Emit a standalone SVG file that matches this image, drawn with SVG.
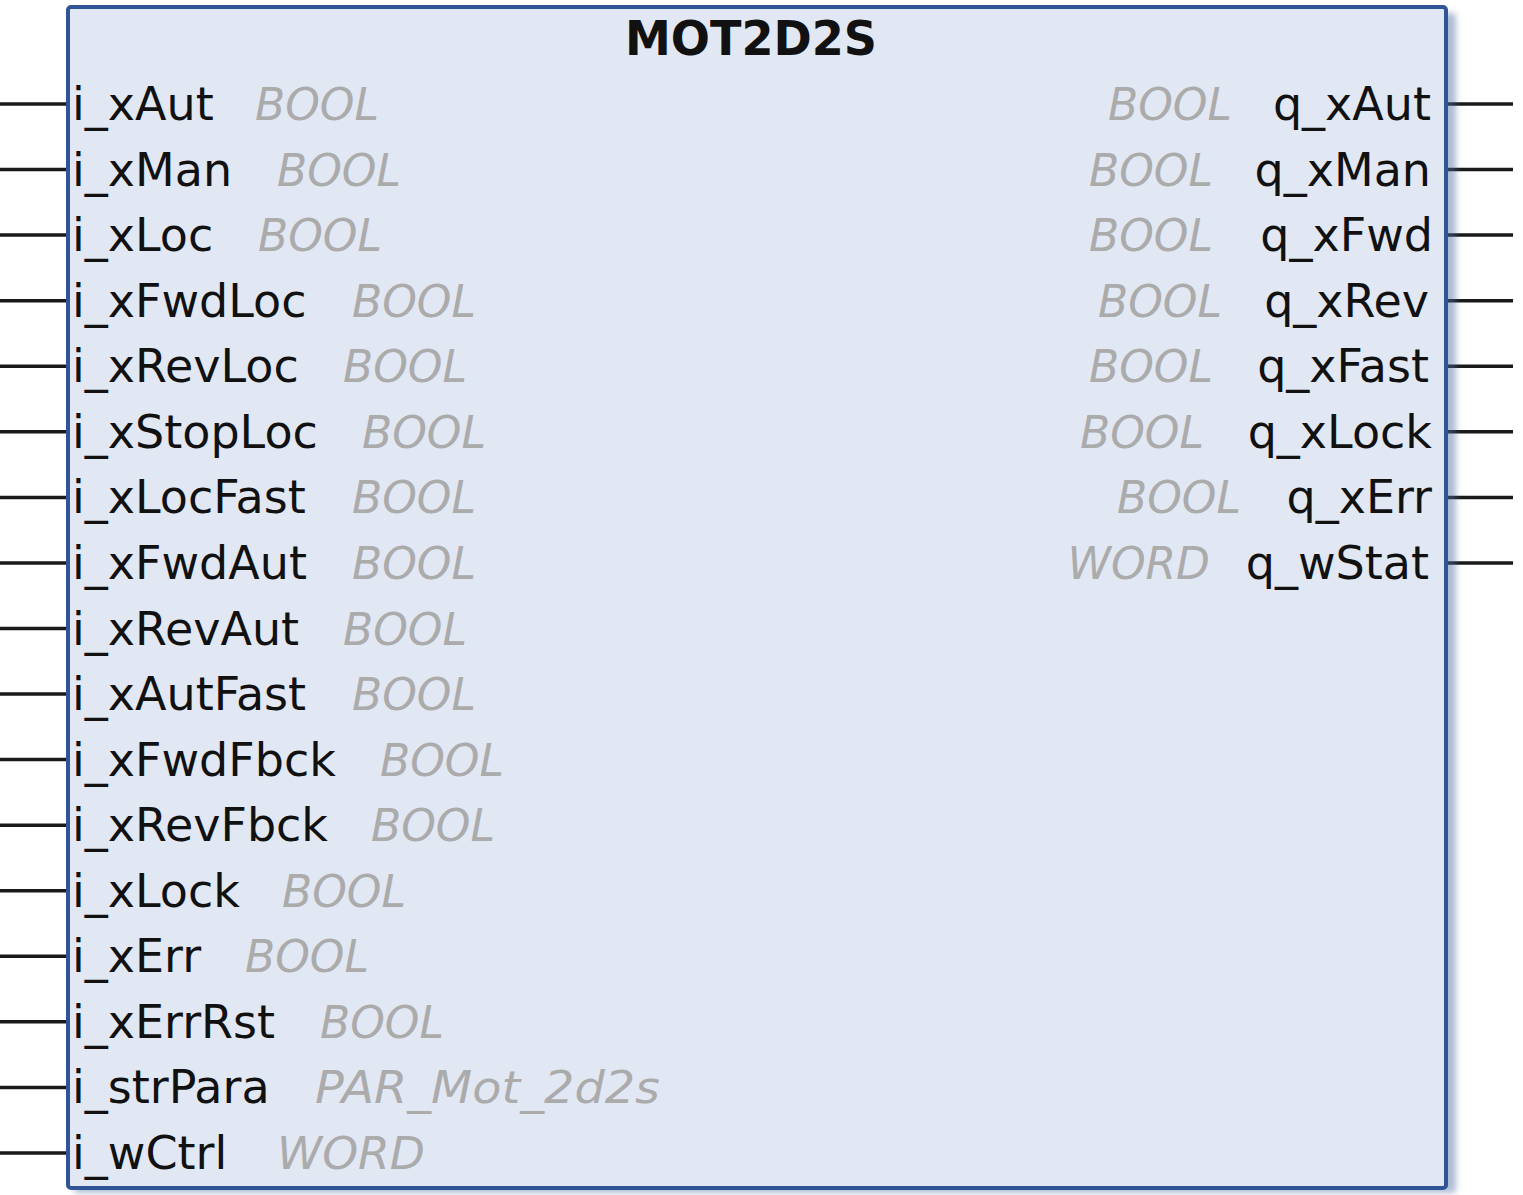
<svg xmlns="http://www.w3.org/2000/svg" width="1523" height="1195" viewBox="0 0 1523 1195">
<style>
.pin{stroke:#1a1a1a;stroke-width:3.5;fill:none}
.lbl{font-family:"DejaVu Sans","Liberation Sans",sans-serif;font-size:46px;fill:#111}
.typ{font-family:"DejaVu Sans","Liberation Sans",sans-serif;font-size:44px;font-style:italic;fill:#ababab}
.r{text-anchor:end}
.title{font-family:"DejaVu Sans","Liberation Sans",sans-serif;font-size:48px;font-weight:bold;fill:#111;text-anchor:middle}
</style>
<defs>
<filter id="sh" x="-5%" y="-5%" width="110%" height="110%">
<feGaussianBlur stdDeviation="3"/>
</filter>
</defs>
<g id="connectors">
<line class="pin" x1="0" y1="104" x2="68" y2="104"/>
<line class="pin" x1="0" y1="169.6" x2="68" y2="169.6"/>
<line class="pin" x1="0" y1="235.1" x2="68" y2="235.1"/>
<line class="pin" x1="0" y1="300.7" x2="68" y2="300.7"/>
<line class="pin" x1="0" y1="366.2" x2="68" y2="366.2"/>
<line class="pin" x1="0" y1="431.8" x2="68" y2="431.8"/>
<line class="pin" x1="0" y1="497.4" x2="68" y2="497.4"/>
<line class="pin" x1="0" y1="562.9" x2="68" y2="562.9"/>
<line class="pin" x1="0" y1="628.5" x2="68" y2="628.5"/>
<line class="pin" x1="0" y1="694" x2="68" y2="694"/>
<line class="pin" x1="0" y1="759.6" x2="68" y2="759.6"/>
<line class="pin" x1="0" y1="825.2" x2="68" y2="825.2"/>
<line class="pin" x1="0" y1="890.7" x2="68" y2="890.7"/>
<line class="pin" x1="0" y1="956.3" x2="68" y2="956.3"/>
<line class="pin" x1="0" y1="1021.8" x2="68" y2="1021.8"/>
<line class="pin" x1="0" y1="1087.4" x2="68" y2="1087.4"/>
<line class="pin" x1="0" y1="1153" x2="68" y2="1153"/>
<line class="pin" x1="1446" y1="104" x2="1513" y2="104"/>
<line class="pin" x1="1446" y1="169.6" x2="1513" y2="169.6"/>
<line class="pin" x1="1446" y1="235.1" x2="1513" y2="235.1"/>
<line class="pin" x1="1446" y1="300.7" x2="1513" y2="300.7"/>
<line class="pin" x1="1446" y1="366.2" x2="1513" y2="366.2"/>
<line class="pin" x1="1446" y1="431.8" x2="1513" y2="431.8"/>
<line class="pin" x1="1446" y1="497.4" x2="1513" y2="497.4"/>
<line class="pin" x1="1446" y1="562.9" x2="1513" y2="562.9"/>
</g>
<g id="MOT2D2S">
<rect x="74" y="13" width="1382" height="1180" rx="4" fill="#4a6aa0" opacity="0.45" filter="url(#sh)"/>
<rect x="68" y="7" width="1378" height="1181" rx="3" fill="#e1e8f4" stroke="#2f5597" stroke-width="4"/>
<text class="title" x="751" y="55" textLength="252" lengthAdjust="spacingAndGlyphs">MOT2D2S</text>
<text class="lbl" x="72" y="120">i_xAut</text><text class="typ" x="255" y="120">BOOL</text>
<text class="lbl" x="72" y="185.6">i_xMan</text><text class="typ" x="277" y="185.6">BOOL</text>
<text class="lbl" x="72" y="251.1">i_xLoc</text><text class="typ" x="258" y="251.1">BOOL</text>
<text class="lbl" x="72" y="316.7">i_xFwdLoc</text><text class="typ" x="352" y="316.7">BOOL</text>
<text class="lbl" x="72" y="382.2">i_xRevLoc</text><text class="typ" x="343" y="382.2">BOOL</text>
<text class="lbl" x="72" y="447.8">i_xStopLoc</text><text class="typ" x="362" y="447.8">BOOL</text>
<text class="lbl" x="72" y="513.4">i_xLocFast</text><text class="typ" x="352" y="513.4">BOOL</text>
<text class="lbl" x="72" y="578.9">i_xFwdAut</text><text class="typ" x="352" y="578.9">BOOL</text>
<text class="lbl" x="72" y="644.5">i_xRevAut</text><text class="typ" x="343" y="644.5">BOOL</text>
<text class="lbl" x="72" y="710">i_xAutFast</text><text class="typ" x="352" y="710">BOOL</text>
<text class="lbl" x="72" y="775.6">i_xFwdFbck</text><text class="typ" x="380" y="775.6">BOOL</text>
<text class="lbl" x="72" y="841.2">i_xRevFbck</text><text class="typ" x="371" y="841.2">BOOL</text>
<text class="lbl" x="72" y="906.7">i_xLock</text><text class="typ" x="282" y="906.7">BOOL</text>
<text class="lbl" x="72" y="972.3">i_xErr</text><text class="typ" x="245" y="972.3">BOOL</text>
<text class="lbl" x="72" y="1037.8">i_xErrRst</text><text class="typ" x="320" y="1037.8">BOOL</text>
<text class="lbl" x="72" y="1103.4">i_strPara</text><text class="typ" x="315" y="1103.4" textLength="345" lengthAdjust="spacingAndGlyphs">PAR_Mot_2d2s</text>
<text class="lbl" x="72" y="1169">i_wCtrl</text><text class="typ" x="277" y="1169" textLength="148" lengthAdjust="spacingAndGlyphs">WORD</text>
<text class="lbl r" x="1431" y="120">q_xAut</text><text class="typ r" x="1232" y="120">BOOL</text>
<text class="lbl r" x="1431" y="185.6">q_xMan</text><text class="typ r" x="1213" y="185.6">BOOL</text>
<text class="lbl r" x="1433" y="251.1">q_xFwd</text><text class="typ r" x="1213" y="251.1">BOOL</text>
<text class="lbl r" x="1429" y="316.7">q_xRev</text><text class="typ r" x="1222" y="316.7">BOOL</text>
<text class="lbl r" x="1429" y="382.2">q_xFast</text><text class="typ r" x="1213" y="382.2">BOOL</text>
<text class="lbl r" x="1432" y="447.8">q_xLock</text><text class="typ r" x="1204" y="447.8">BOOL</text>
<text class="lbl r" x="1432" y="513.4">q_xErr</text><text class="typ r" x="1241" y="513.4">BOOL</text>
<text class="lbl r" x="1429" y="578.9">q_wStat</text><text class="typ r" x="1210" y="578.9">WORD</text>
</g>
</svg>
